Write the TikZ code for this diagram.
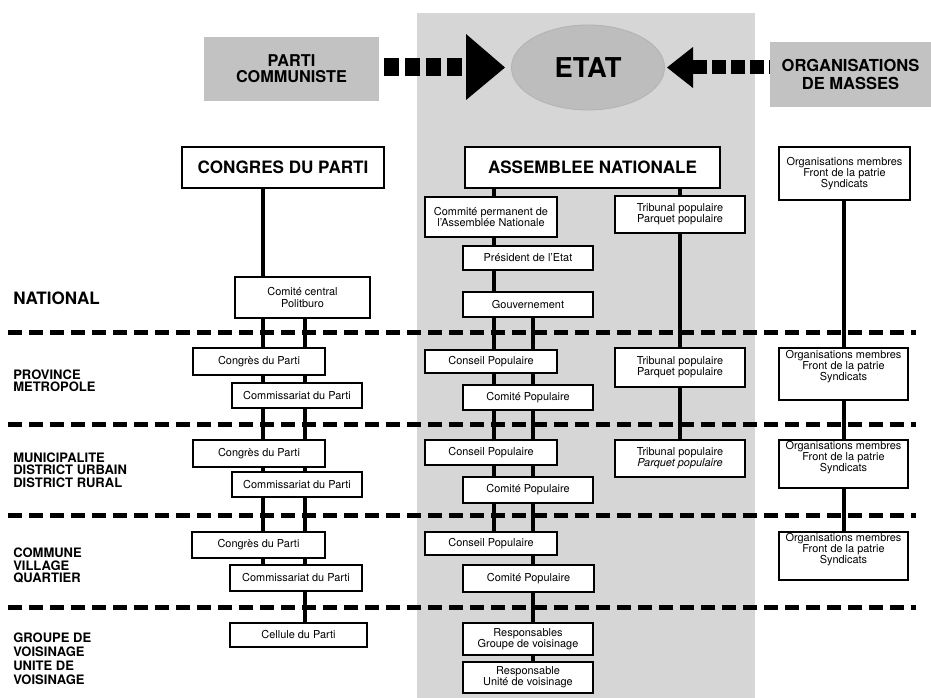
\documentclass[tikz,border=0pt]{standalone}
\usepackage{fontspec}
\setmainfont{TeX Gyre Heros}
\usetikzlibrary{shapes.geometric}

% box from corner (x1,y1) to corner (x2,y2), in pixel units
\newcommand\obox[7][box]{%
  \node[#1, minimum width={(#5-#3)*0.75pt}, minimum height={(#6-#4)*0.75pt}]
    (#2) at ({(#3+#5)/2},{(#4+#6)/2}) {#7};}
% vertical link between two stacked boxes along the column line #3
\newcommand\vlink[3]{\draw[link] (#1.south -| #3) -- (#2.north -| #3);}

\definecolor{stategrey}{gray}{0.84}
\definecolor{boxgrey}{gray}{0.76}
\definecolor{ovalgrey}{gray}{0.74}

\begin{document}
\begin{tikzpicture}[x=0.75pt,y=-0.75pt,
  box/.style={draw=black, line width=1.8pt, fill=white, inner sep=0pt,
    align=center, font=\fontsize{8.2pt}{8.4pt}\selectfont},
  headbox/.style={box, font=\bfseries\fontsize{12.8pt}{14pt}\selectfont},
  orgbox/.style={box, font=\fontsize{8.2pt}{8.2pt}\selectfont},
  greybox/.style={fill=boxgrey, inner sep=0pt, align=center,
    font=\bfseries\fontsize{12.2pt}{12pt}\selectfont},
  link/.style={line width=3pt},
  level/.style={anchor=west, inner sep=0pt, align=left,
    font=\bfseries\fontsize{9.75pt}{9.2pt}\selectfont},
  sep/.style={line width=3.75pt, dash pattern=on 10.5pt off 5.25pt},
]
\useasboundingbox (0,0) rectangle (931,698);

% shaded band of the state institutions
\fill[stategrey] (417,13) rectangle (755,698);

% ---- top row: party, state, mass organisations
\obox[greybox]{pc}{204}{37}{379}{101}{PARTI\\COMMUNISTE}
\node[ellipse, fill=ovalgrey, draw=black!30, line width=0.6pt,
  minimum width=153*0.75pt, minimum height=85*0.75pt, inner sep=0pt,
  font=\bfseries\fontsize{20.5pt}{20pt}\selectfont] (etat) at (588,67.5) {ETAT};
\obox[greybox, font=\bfseries\fontsize{12.4pt}{13pt}\selectfont]{om}{770}{42}{931}{107}{ORGANISATIONS\\DE MASSES}

\coordinate (lbase) at (466,67);
\coordinate (rbase) at (693,67);
\draw[line width=13.5pt, dash pattern=on 11.25pt off 4.5pt, dash phase=-3pt]
  (lbase) -- (pc.east |- lbase);
\fill (466,34) -- (etat.west -| 505,0) -- (466,100) -- cycle;
\draw[line width=10.5pt, dash pattern=on 10.5pt off 3.75pt]
  (rbase) -- (om.west |- rbase);
\fill (693,47) -- (etat.east -| 667,0) -- (693,88) -- cycle;

% ---- level separators
\foreach \yy/\nm in {333/a,424/b,515/c,607/d}{
  \coordinate (sep\nm l) at (8,\yy);
  \coordinate (sep\nm r) at (916,\yy);
  \draw[sep] (sep\nm l) -- (sep\nm r);
}

% ---- level labels
\node[level, font=\bfseries\fontsize{12.8pt}{13pt}\selectfont] (lnat) at (13,298) {NATIONAL};
\node[level] (lprov) at (13,381) {PROVINCE\\METROPOLE};
\node[level] (lmun) at (13,470) {MUNICIPALITE\\DISTRICT URBAIN\\DISTRICT RURAL};
\node[level] (lcom) at (13,565.5) {COMMUNE\\VILLAGE\\QUARTIER};
\node[level, font=\bfseries\fontsize{9.75pt}{10.5pt}\selectfont] (lgrp) at (13,659) {GROUPE DE\\VOISINAGE\\UNITE DE\\VOISINAGE};

% ---- column lines
\coordinate (xA) at (263,0);
\coordinate (xB) at (305,0);
\coordinate (xM) at (494,0);
\coordinate (xN) at (533,0);
\coordinate (xT) at (680,0);
\coordinate (xO) at (844,0);

% ---- party column
\obox[headbox]{congres}{182}{147}{384}{188}{CONGRES DU PARTI}
\obox{cc}{235}{277}{370}{318}{Comité central\\Politburo}
\obox{cga}{193}{348}{325}{375}{Congrès du Parti}
\obox{cma}{232}{383}{362}{408}{Commissariat du Parti}
\obox{cgb}{193}{440}{325}{467}{Congrès du Parti}
\obox{cmb}{232}{472}{362}{497}{Commissariat du Parti}
\obox{cgc}{192}{532}{325}{558}{Congrès du Parti}
\obox{cmc}{230}{565}{362}{591}{Commissariat du Parti}
\obox{cel}{230}{623}{367}{647}{Cellule du Parti}

% ---- state column
\obox[headbox]{an}{465}{147}{720}{188}{ASSEMBLEE NATIONALE}
\obox{cp}{425}{197}{557}{237}{Commité permanent de\\l'Assemblée Nationale}
\obox{pres}{463}{246}{593}{270}{Président de l'Etat}
\obox{gouv}{463}{292}{593}{317}{Gouvernement}
\obox{cna}{425}{350}{557}{373}{Conseil Populaire}
\obox{cpa}{463}{385}{593}{410}{Comité Populaire}
\obox{cnb}{425}{440}{557}{465}{Conseil Populaire}
\obox{cpb}{463}{477}{593}{503}{Comité Populaire}
\obox{cnc}{425}{532}{557}{555}{Conseil Populaire}
\obox{cpc}{463}{565}{594}{592}{Comité Populaire}
\obox{rg}{463}{623}{593}{655}{Responsables\\Groupe de voisinage}
\obox{ru}{463}{662}{593}{693}{Responsable\\Unité de voisinage}

% ---- courts
\obox{tra}{615}{196}{745}{233}{Tribunal populaire\\Parquet populaire}
\obox{trb}{615}{348}{745}{387}{Tribunal populaire\\Parquet populaire}
\obox{trc}{615}{440}{745}{477}{Tribunal populaire\\\textit{Parquet populaire}}

% ---- member organisations
\obox[orgbox]{oma}{779}{147}{910}{200}{Organisations membres\\Front de la patrie\\Syndicats}
\obox[orgbox]{omb}{779}{348}{908}{400}{Organisations membres\\Front de la patrie\\Syndicats\\[1.2ex]}
\obox[orgbox]{omc}{779}{440}{908}{488}{Organisations membres\\Front de la patrie\\Syndicats\\[0.8ex]}
\obox[orgbox]{omd}{779}{532}{908}{580}{Organisations membres\\Front de la patrie\\Syndicats\\[0.8ex]}

% ---- links between the boxes of each chain
\vlink{congres}{cc}{xA}
\foreach \u/\v in {cc/cga,cga/cma,cma/cgb,cgb/cmb,cmb/cgc,cgc/cmc}{
  \vlink{\u}{\v}{xA}\vlink{\u}{\v}{xB}}
\vlink{cmc}{cel}{xB}

\vlink{an}{cp}{xM}
\vlink{cp}{pres}{xM}
\vlink{pres}{gouv}{xM}
\foreach \u/\v in {gouv/cna,cna/cpa,cpa/cnb,cnb/cpb,cpb/cnc}{
  \vlink{\u}{\v}{xM}\vlink{\u}{\v}{xN}}
\vlink{cnc}{cpc}{xN}
\vlink{cpc}{rg}{xN}
\vlink{rg}{ru}{xN}

\vlink{an}{tra}{xT}
\vlink{tra}{trb}{xT}
\vlink{trb}{trc}{xT}

\vlink{oma}{omb}{xO}
\vlink{omb}{omc}{xO}
\vlink{omc}{omd}{xO}
\end{tikzpicture}
\end{document}
